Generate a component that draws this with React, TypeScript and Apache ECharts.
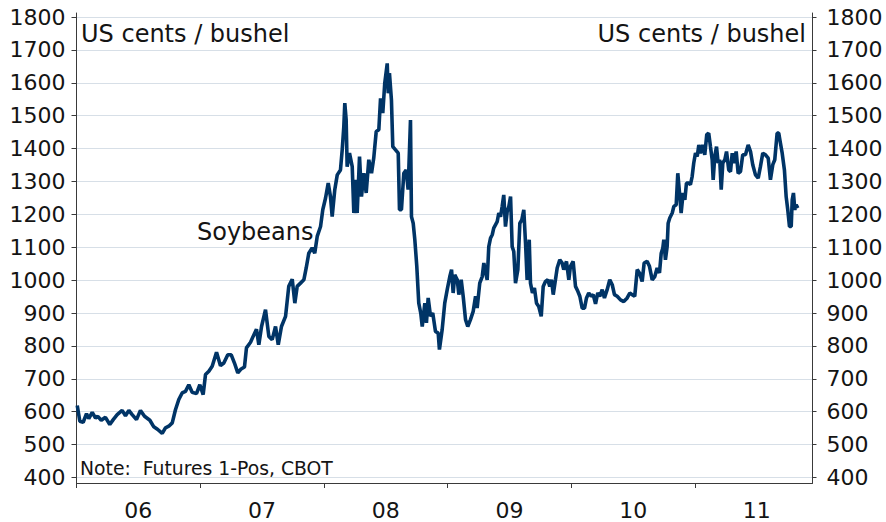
import React, { useEffect, useRef } from "react";
import * as echarts from "echarts";

// Decimal year, US cents per bushel
const soy2006: [number, number][] = [
  [2006.006, 619], [2006.027, 571], [2006.054, 568], [2006.081, 594], [2006.099, 579],
  [2006.127, 598], [2006.154, 581], [2006.172, 586], [2006.2, 574], [2006.234, 583],
  [2006.269, 561], [2006.297, 576], [2006.329, 591], [2006.369, 604], [2006.396, 588],
  [2006.423, 604], [2006.45, 591], [2006.485, 576], [2006.517, 604], [2006.55, 586],
  [2006.593, 574], [2006.625, 554], [2006.657, 546], [2006.693, 534], [2006.719, 551],
  [2006.746, 556], [2006.774, 566], [2006.8, 606], [2006.827, 637], [2006.854, 657],
  [2006.881, 662], [2006.908, 682], [2006.935, 659], [2006.97, 655], [2006.997, 682],
];
const soy2007: [number, number][] = [
  [2007.024, 652], [2007.043, 713], [2007.07, 723], [2007.097, 738], [2007.132, 781],
  [2007.164, 740], [2007.191, 748], [2007.223, 773], [2007.251, 773], [2007.277, 748],
  [2007.304, 718], [2007.331, 730], [2007.358, 736], [2007.374, 794], [2007.407, 811],
  [2007.428, 829], [2007.455, 851], [2007.474, 804], [2007.496, 859], [2007.528, 910],
  [2007.555, 829], [2007.582, 819], [2007.609, 859], [2007.631, 804], [2007.657, 859],
  [2007.69, 890], [2007.716, 981], [2007.744, 1003], [2007.765, 930], [2007.784, 981],
  [2007.811, 991], [2007.838, 1001], [2007.857, 1037], [2007.878, 1082], [2007.905, 1098],
  [2007.926, 1082], [2007.946, 1133], [2007.973, 1163], [2007.991, 1214],
];
const soy2008: [number, number][] = [
  [2008.013, 1249], [2008.035, 1295], [2008.053, 1254], [2008.067, 1193], [2008.088, 1275],
  [2008.108, 1320], [2008.134, 1335], [2008.148, 1396], [2008.161, 1467], [2008.169, 1538],
  [2008.18, 1487], [2008.188, 1345], [2008.207, 1386], [2008.229, 1345], [2008.242, 1204],
  [2008.255, 1305], [2008.269, 1204], [2008.288, 1376], [2008.304, 1254], [2008.323, 1325],
  [2008.342, 1265], [2008.363, 1366], [2008.385, 1325], [2008.403, 1371], [2008.423, 1452],
  [2008.444, 1457], [2008.458, 1553], [2008.476, 1508], [2008.492, 1599], [2008.512, 1659],
  [2008.52, 1568], [2008.53, 1629], [2008.546, 1548], [2008.557, 1406], [2008.579, 1396],
  [2008.601, 1386], [2008.611, 1214], [2008.627, 1214], [2008.646, 1325], [2008.665, 1335],
  [2008.681, 1275], [2008.7, 1487], [2008.708, 1193], [2008.722, 1173], [2008.735, 1123],
  [2008.751, 1042], [2008.767, 930], [2008.783, 900], [2008.795, 859], [2008.816, 930],
  [2008.829, 870], [2008.843, 946], [2008.862, 890], [2008.88, 900], [2008.902, 844],
  [2008.924, 839], [2008.934, 789], [2008.956, 849], [2008.977, 930],
];
const soy2009: [number, number][] = [
  [2008.997, 971], [2009.018, 1011], [2009.032, 1032], [2009.045, 961], [2009.058, 1016],
  [2009.078, 1001], [2009.091, 956], [2009.11, 1001], [2009.126, 951], [2009.145, 880],
  [2009.163, 859], [2009.185, 880], [2009.207, 905], [2009.226, 951], [2009.239, 915],
  [2009.26, 991], [2009.28, 1011], [2009.293, 1052], [2009.306, 1026], [2009.32, 1001],
  [2009.333, 1102], [2009.347, 1128], [2009.361, 1138], [2009.373, 1158], [2009.387, 1168],
  [2009.401, 1178], [2009.414, 1204], [2009.428, 1193], [2009.441, 1224], [2009.454, 1259],
  [2009.468, 1163], [2009.482, 1209], [2009.495, 1224], [2009.509, 1254], [2009.522, 1102],
  [2009.535, 1087], [2009.549, 991], [2009.568, 1032], [2009.584, 1173], [2009.6, 1183],
  [2009.616, 1214], [2009.63, 1113], [2009.643, 1001], [2009.66, 1123], [2009.67, 991],
  [2009.686, 961], [2009.702, 976], [2009.719, 930], [2009.737, 920], [2009.757, 890],
  [2009.773, 981], [2009.791, 996], [2009.81, 1001], [2009.826, 981], [2009.84, 1001],
  [2009.854, 956], [2009.872, 1001], [2009.886, 1037], [2009.907, 1062], [2009.926, 1052],
  [2009.939, 1032], [2009.961, 1057], [2009.98, 1001], [2009.993, 1042],
];
const soy2010: [number, number][] = [
  [2010.015, 1057], [2010.034, 981], [2010.053, 966], [2010.069, 951], [2010.088, 915],
  [2010.107, 915], [2010.123, 946], [2010.141, 961], [2010.161, 951], [2010.177, 956],
  [2010.196, 928], [2010.214, 961], [2010.23, 951], [2010.25, 971], [2010.268, 946],
  [2010.29, 971], [2010.311, 1001], [2010.331, 986], [2010.349, 956], [2010.371, 951],
  [2010.398, 940], [2010.424, 935], [2010.452, 946], [2010.473, 961], [2010.492, 956],
  [2010.513, 951], [2010.533, 1032], [2010.551, 1022], [2010.573, 996], [2010.589, 1052],
  [2010.613, 1057], [2010.632, 1042], [2010.654, 1001], [2010.675, 1011], [2010.694, 1037],
  [2010.713, 1022], [2010.727, 1082], [2010.74, 1098], [2010.748, 1123], [2010.761, 1062],
  [2010.775, 1102], [2010.783, 1173], [2010.796, 1189], [2010.816, 1204], [2010.829, 1224],
  [2010.848, 1229], [2010.861, 1325], [2010.875, 1265], [2010.888, 1204], [2010.904, 1265],
  [2010.918, 1244], [2010.931, 1295], [2010.95, 1295], [2010.963, 1290], [2010.977, 1315],
  [2010.99, 1356],
];
const soy2011: [number, number][] = [
  [2011.004, 1386], [2011.018, 1376], [2011.031, 1411], [2011.044, 1386], [2011.063, 1411],
  [2011.079, 1381], [2011.095, 1442], [2011.111, 1447], [2011.125, 1406], [2011.139, 1366],
  [2011.147, 1305], [2011.16, 1376], [2011.174, 1406], [2011.187, 1356], [2011.2, 1366],
  [2011.212, 1275], [2011.225, 1356], [2011.241, 1366], [2011.255, 1391], [2011.273, 1335],
  [2011.287, 1330], [2011.301, 1386], [2011.314, 1356], [2011.333, 1391], [2011.349, 1325],
  [2011.368, 1330], [2011.386, 1381], [2011.408, 1381], [2011.43, 1411], [2011.449, 1391],
  [2011.467, 1351], [2011.489, 1320], [2011.511, 1310], [2011.529, 1345], [2011.548, 1386],
  [2011.57, 1381], [2011.592, 1371], [2011.61, 1305], [2011.629, 1351], [2011.645, 1366],
  [2011.664, 1447], [2011.677, 1447], [2011.691, 1416], [2011.705, 1386], [2011.723, 1335],
  [2011.737, 1254], [2011.75, 1214], [2011.764, 1163], [2011.778, 1163], [2011.786, 1244],
  [2011.796, 1265], [2011.807, 1214], [2011.818, 1229], [2011.831, 1219],
];

const yearTicks = [2006, 2007, 2008, 2009, 2010, 2011];
const yearLabelPositions = [2006.5, 2007.5, 2008.5, 2009.5, 2010.5, 2011.5];
const xMin = 2006;
const xMax = 2011.95;
const yMin = 400;
const yMax = 1800;
const yStep = 100;

const unitText = "US cents / bushel";
const seriesName = "Soybeans";
const noteText = "Note:  Futures 1-Pos, CBOT";

const FONT = "DejaVu Sans, Verdana, sans-serif";
const TEXT = "#141414";
const AXIS = "#3a3a3a";
const GRIDC = "#d7dfe7";
const LINE = "#003466";

export default function App() {
  const ref = useRef<HTMLDivElement>(null);
  useEffect(() => {
    if (!ref.current) return;
    const chart = echarts.init(ref.current, undefined, { renderer: "svg" });
    const data = [...soy2006, ...soy2007, ...soy2008, ...soy2009, ...soy2010, ...soy2011];
    const gLeft = 76.5;
    const gRight = 886 - 812.5;
    const yLabel = (v: number) => String(v);
    chart.setOption({
      animation: false,
      backgroundColor: "#ffffff",
      grid: [
        { left: gLeft, right: gRight, top: 17, bottom: 44.5, containLabel: false },
        { left: gLeft, right: gRight, top: 13, bottom: 39, containLabel: false },
      ],
      xAxis: [
        {
          gridIndex: 0, type: "value", min: xMin, max: xMax, show: false,
        },
        {
          gridIndex: 1, type: "value", min: xMin, max: xMax,
          axisLine: { show: true, lineStyle: { color: AXIS, width: 1 } },
          axisTick: { show: true, length: 5, customValues: yearTicks, lineStyle: { color: AXIS } },
          axisLabel: {
            show: true, customValues: yearLabelPositions, margin: 16,
            fontFamily: FONT, fontSize: 22, color: TEXT,
            formatter: (v: number) => String(Math.floor(v) % 100).padStart(2, "0"),
          },
          splitLine: { show: false },
        },
      ],
      yAxis: [
        {
          gridIndex: 0, type: "value", min: yMin, max: yMax, interval: yStep, position: "left",
          axisLine: { show: false },
          axisTick: { show: true, length: 5, lineStyle: { color: AXIS } },
          axisLabel: { margin: 11, fontFamily: FONT, fontSize: 22, color: TEXT, formatter: yLabel },
          splitLine: { show: true, lineStyle: { color: GRIDC, width: 1 } },
        },
        {
          gridIndex: 0, type: "value", min: yMin, max: yMax, interval: yStep, position: "right",
          axisLine: { show: false },
          axisTick: { show: true, length: 4, lineStyle: { color: AXIS } },
          axisLabel: { margin: 14, fontFamily: FONT, fontSize: 22, color: TEXT, formatter: yLabel },
          splitLine: { show: false },
        },
        {
          gridIndex: 1, type: "value", min: 0, max: 1, position: "left",
          axisLine: { show: true, lineStyle: { color: AXIS, width: 1 } },
          axisTick: { show: false }, axisLabel: { show: false }, splitLine: { show: false },
        },
        {
          gridIndex: 1, type: "value", min: 0, max: 1, position: "right",
          axisLine: { show: true, lineStyle: { color: AXIS, width: 1 } },
          axisTick: { show: false }, axisLabel: { show: false }, splitLine: { show: false },
        },
      ],
      series: [
        {
          name: seriesName, type: "line", xAxisIndex: 0, yAxisIndex: 0,
          data, showSymbol: false, symbol: "none",
          lineStyle: { color: LINE, width: 3.6, join: "bevel" },
        },
      ],
      graphic: [
        {
          type: "text", left: 81, top: 22,
          style: { text: unitText, fontFamily: FONT, fontSize: 24, fill: TEXT },
        },
        {
          type: "text", right: 886 - 806, top: 22,
          style: { text: unitText, fontFamily: FONT, fontSize: 24, fill: TEXT },
        },
        {
          type: "text", left: 197, top: 220,
          style: { text: seriesName, fontFamily: FONT, fontSize: 24, fill: TEXT },
        },
        {
          type: "text", left: 80, top: 459,
          style: { text: noteText, fontFamily: FONT, fontSize: 18.8, fill: TEXT },
        },
      ],
    });
    return () => chart.dispose();
  }, []);
  return (
    <div
      ref={ref}
      style={{ position: "absolute", left: 0, top: 0, width: 886, height: 522 }}
    />
  );
}
